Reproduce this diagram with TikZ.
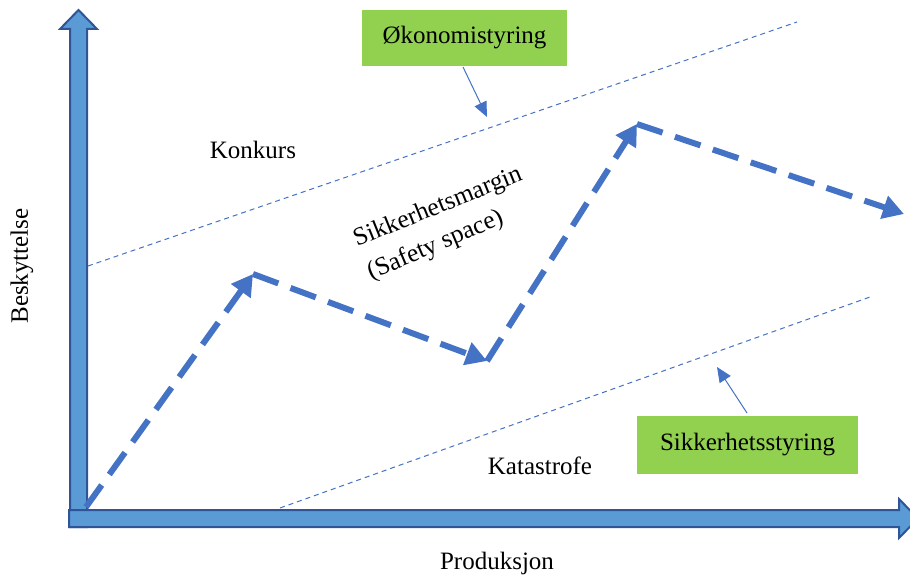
\documentclass[tikz,border=0pt]{standalone}
\usepackage{fontspec}
\setmainfont{Liberation Serif}
\usetikzlibrary{arrows.meta}
\definecolor{axisfill}{HTML}{5B9BD5}
\definecolor{axisedge}{HTML}{2F5597}
\definecolor{pathblue}{HTML}{4472C4}
\definecolor{boxgreen}{HTML}{92D050}
\tikzset{
  axisbar/.style={fill=axisfill, draw=axisedge, line width=2pt, line join=miter},
  label/.style={font=\fontsize{25}{29}\selectfont, inner sep=0pt},
  greenbox/.style={fill=boxgreen, draw=none, font=\fontsize{25}{29}\selectfont},
  trend/.style={draw=pathblue, line width=6pt, dash pattern=on 27pt off 13pt,
    -{Triangle[length=21pt, width=23pt]}},
  band/.style={draw=pathblue, line width=1pt, dash pattern=on 5pt off 4pt},
  pointer/.style={draw=pathblue, line width=1pt, -{Triangle[length=15pt, width=13pt]}}
}
\begin{document}
\begin{tikzpicture}[x=1pt, y=-1pt]
\useasboundingbox (0,0) rectangle (910,578);

% vertical axis (Beskyttelse)
\path[axisbar] (70,527) -- (70,29) -- (60,29) -- (78.5,10) -- (97,29) -- (87,29) -- (87,527) -- cycle;
% horizontal axis (Produksjon)
\path[axisbar] (69,510) -- (899,510) -- (899,499) -- (918,518.5) -- (899,538) -- (899,527) -- (69,527) -- cycle;

% margin band limits
\coordinate (u0) at (88,266);
\coordinate (u1) at (797,22);
\coordinate (l0) at (280,508);
\coordinate (l1) at (870,297);
\draw[band] (u0) -- (u1);
\draw[band] (l0) -- (l1);

% trajectory vertices
\coordinate (p0) at (86,507);
\coordinate (p1) at (253,274);
\coordinate (p2) at (487,361);
\coordinate (p3) at (637,124);
\coordinate (p4) at (904,214);
\draw[trend] (p0) -- (p1);
\draw[trend] (p1) -- (p2);
\draw[trend] (p2) -- (p3);
\draw[trend] (p3) -- (p4);

% labels
\node[greenbox, minimum width=205pt, minimum height=56pt] (oko) at (464.5,38) {Økonomistyring};
\node[greenbox, minimum width=221pt, minimum height=58pt] (sik) at (747.5,445) {Sikkerhetsstyring};
\coordinate (okotip) at (487,117);
\coordinate (siktip) at (717,367);
\draw[pointer] (463,67) -- (okotip);
\draw[pointer] (747,413) -- (siktip);

\node[label] (konkurs) at (253,150) {Konkurs};
\node[label] (katastrofe) at (540,466) {Katastrofe};
\node[label, font=\fontsize{25.5}{29}\selectfont, rotate=22, anchor=base west] (margin1) at (357,247) {Sikkerhetsmargin};
\node[label, font=\fontsize{25.5}{29}\selectfont, rotate=23, anchor=base west] (margin2) at (371,280) {(Safety space)};
\node[label, rotate=90] (ylab) at (22,266) {Beskyttelse};
\node[label] (xlab) at (497,563) {Produksjon};
\end{tikzpicture}
\end{document}
